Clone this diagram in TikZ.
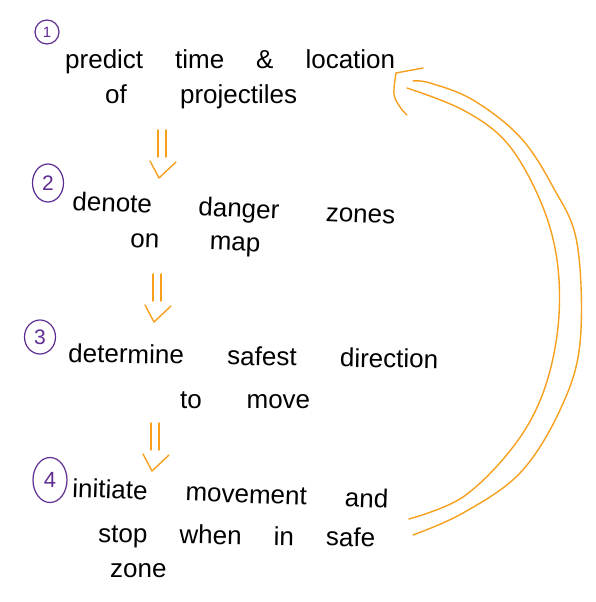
\documentclass[tikz,border=0pt]{standalone}
\usepackage{fontspec}
\setmainfont{Liberation Sans}
\usetikzlibrary{calc,shapes.geometric}
\definecolor{hporange}{RGB}{247,160,30}
\definecolor{hppurple}{RGB}{95,45,145}
\newcommand\dnarrowmark[1]{%
  \draw[orng] ($(#1)+(-4,0)$) -- ++(0,27);
  \draw[orng] ($(#1)+(4,0)$) -- ++(0,27);
  \draw[orng] ($(#1)+(-12,31)$) -- ($(#1)+(-3,48)$) -- ($(#1)+(14,32)$);}
\begin{document}
\begin{tikzpicture}[x=1pt,y=-1pt,
  txt/.style={inner sep=0pt, anchor=base west, font=\fontsize{26}{26}\selectfont},
  num/.style={ellipse, draw=hppurple, text=hppurple, line width=1.2pt, inner sep=0pt},
  orng/.style={draw=hporange, line width=1.4pt, line cap=round, line join=round}]
\useasboundingbox (0,0) rectangle (596,602);
\fill[white] (0,0) rectangle (596,602);

% step numbers
\node[num, minimum width=24pt, minimum height=24pt, font=\fontsize{15}{15}\selectfont] (n1) at (47,32) {1};
\node[num, minimum width=31pt, minimum height=38pt, font=\fontsize{21}{21}\selectfont] (n2) at (48,183) {2};
\node[num, minimum width=31pt, minimum height=34pt, font=\fontsize{21}{21}\selectfont] (n3) at (40,337) {3};
\node[num, minimum width=34pt, minimum height=45pt, font=\fontsize{22}{22}\selectfont] (n4) at (50,480) {4};

% texts
\node[txt] (t1a) at (65,68) {\makebox[330pt][s]{predict time \& location}};
\node[txt] (t1b) at (105,103) {\makebox[192pt][s]{of projectiles}};
\node[txt, rotate=-2.5] (t2a) at (72,210) {\makebox[323pt][s]{denote danger zones}};
\node[txt, rotate=-2] (t2b) at (130,247) {\makebox[130pt][s]{on map}};
\node[txt, rotate=-1] (t3a) at (68,362) {\makebox[370pt][s]{determine safest direction}};
\node[txt] (t3b) at (180,408) {\makebox[130pt][s]{to move}};
\node[txt, rotate=-2] (t4a) at (72,497) {\makebox[316pt][s]{initiate movement and}};
\node[txt, rotate=-1] (t4b) at (98,542) {\makebox[277pt][s]{stop when in safe}};
\node[txt] (t4c) at (110,577) {zone};

% down arrows
\coordinate (d1) at (162,130);
\coordinate (d2) at (157,274);
\coordinate (d3) at (155,423);
\dnarrowmark{d1}
\dnarrowmark{d2}
\dnarrowmark{d3}

% feedback loop
\coordinate (lpinS) at (409,519);
\coordinate (lpinE) at (407,88);
\coordinate (lpoutS) at (413,535);
\coordinate (lpoutE) at (413,81);
\draw[orng] plot[smooth, tension=0.6] coordinates {(lpinS) (463,497) (513,447) (543,393) (558,327) (557,260) (540,200) (507,143) (463,110) (lpinE)};
\draw[orng] plot[smooth, tension=0.6] coordinates {(lpoutS) (463,513) (520,473) (560,410) (580,343) (577,243) (553,187) (520,137) (473,100) (430,83) (lpoutE)};
\coordinate (hd) at (396,73);
\draw[orng] (423,68) -- (hd) plot[smooth, tension=0.6] coordinates {(hd) (394,94) (400,107) (407,115)};
\end{tikzpicture}
\end{document}
